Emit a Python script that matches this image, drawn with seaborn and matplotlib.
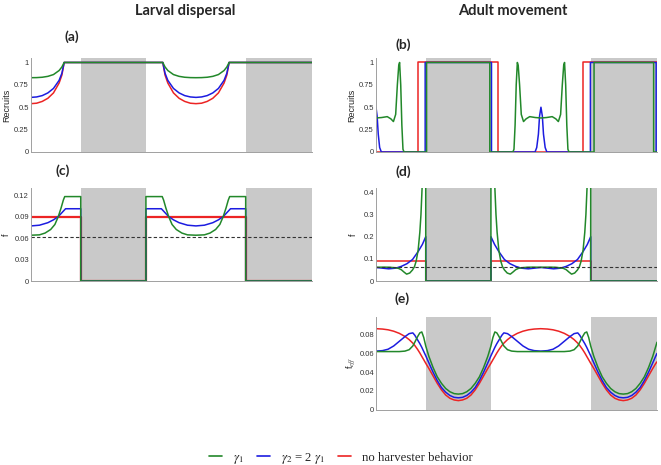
import matplotlib
matplotlib.use("Agg")
import matplotlib.pyplot as plt
from matplotlib.lines import Line2D
import seaborn as sns

# coastline runs 0..100, grey = reserves
reserves = [(17.7, 40.9), (76.4, 100.0)]
msy_effort = 0.062

# (a) larval dispersal - recruits
a_x = [0, 2, 4, 6, 8, 10, 11, 11.8, 46.9, 47.7, 48.7, 50.7, 52.7, 54.7, 56.7, 58.7,
       60.7, 62.7, 64.7, 66.7, 68.7, 69.7, 70.5, 100]
a_green = [.83, .831, .835, .845, .865, .91, .95, 1, 1, .95, .91, .865, .845, .835, .831, .83,
           .831, .835, .845, .865, .91, .95, 1, 1]
a_blue = [.61, .615, .63, .66, .71, .80, .88, 1, 1, .88, .80, .71, .66, .63, .615, .61,
          .615, .63, .66, .71, .80, .88, 1, 1]
a_red = [.54, .545, .565, .60, .66, .77, .86, 1, 1, .86, .77, .66, .60, .565, .545, .54,
         .545, .565, .60, .66, .77, .86, 1, 1]

# (b) adult movement - recruits
b_red_x = [0, 14.8, 14.8, 43.5, 43.5, 73.5, 73.5, 100]
b_red = [0, 0, 1, 1, 0, 0, 1, 1]
b_blue_x = [0, 0.4, 0.8, 1.3, 1.9, 17.5, 17.5, 41.1, 41.1, 56.6, 57.2, 57.8, 58.2, 58.7,
            59.2, 59.6, 60.2, 60.8, 76.3, 76.3, 99.7, 99.7, 100]
b_blue = [.5, .4, .2, .05, 0, 0, 1, 1, 0, 0, .05, .2, .4, .5, .4, .2, .05, 0, 0, 1, 1, 0, 0]
b_green_x = [0, 2, 4, 5.3, 6.2, 7.0, 7.6, 8.1, 8.4, 8.8, 9.2, 9.6, 10.0, 18.0, 18.0, 40.5, 40.5,
             48.7, 49.1, 49.5, 49.9, 50.3, 50.6, 51.1, 51.7, 52.5, 53.4, 54.7, 56.7, 58.7,
             60.7, 62.7, 64.0, 64.9, 65.7, 66.3, 66.8, 67.1, 67.5, 67.9, 68.3, 68.7,
             77.6, 77.6, 98.8, 98.8, 100]
b_green = [.38, .385, .395, .37, .34, .42, .75, .97, 1, .75, .3, .03, 0, 0, 1, 1, 0,
           0, .03, .3, .75, 1, .97, .75, .42, .34, .37, .395, .385, .38,
           .385, .395, .37, .34, .42, .75, .97, 1, .75, .3, .03, 0,
           0, 1, 1, 0, 0]

# (c) larval dispersal - effort f
c_red_x = [0, 17.7, 17.7, 40.9, 40.9, 76.4, 76.4, 100]
c_red = [.09, .09, 0, 0, .09, .09, 0, 0]
c_blue_x = [0, 3, 6, 8, 9.7, 11, 12.3, 17.7, 17.7, 40.9, 40.9, 46.4, 47.7, 49.0, 50.7, 52.7,
            55.7, 58.7, 61.7, 64.7, 66.7, 68.4, 69.7, 71.0, 76.4, 76.4, 100]
c_blue = [.077, .078, .0815, .0855, .09, .0955, .101, .101, 0, 0, .101, .101, .0955, .09, .0855,
          .0815, .078, .077, .078, .0815, .0855, .09, .0955, .101, .101, 0, 0]
c_green_x = [0, 3, 5, 7, 8.5, 9.7, 10.7, 11.5, 12, 17.7, 17.7, 40.9, 40.9, 46.7, 47.2, 48.0,
             49.0, 50.2, 51.7, 53.7, 55.7, 58.7, 61.7, 63.7, 65.7, 67.2, 68.4, 69.4, 70.2,
             70.7, 76.4, 76.4, 100]
c_green = [.064, .0645, .067, .072, .079, .09, .102, .113, .118, .118, 0, 0, .118, .118, .113,
           .102, .09, .079, .072, .067, .0645, .064, .0645, .067, .072, .079, .09, .102, .113,
           .118, .118, 0, 0]

# (d) adult movement - effort f
d_red_x = [0, 17.7, 17.7, 40.9, 40.9, 76.4, 76.4, 100]
d_red = [.09, .09, 0, 0, .09, .09, 0, 0]
d_blue_x = [0, 2, 4.5, 7, 9, 11, 13, 15, 16.5, 17.7, 17.7, 40.9, 40.9, 42.2, 43.7, 45.7, 47.7,
            49.7, 51.7, 54.2, 56.7, 58.7, 60.7, 63.2, 65.7, 67.7, 69.7, 71.7, 73.7, 75.2,
            76.4, 76.4, 100]
d_blue = [.061, .0585, .055, .058, .066, .078, .097, .133, .165, .2, 0, 0, .2, .165, .133,
          .097, .078, .066, .058, .055, .0585, .061, .0585, .055, .058, .066, .078, .097,
          .133, .165, .2, 0, 0]
d_green_x = [0, 3, 5, 7, 8, 9, 10, 10.9, 12, 13, 13.7, 14.3, 15, 15.6, 16, 16.4, 17, 17.7,
             17.7, 40.9, 40.9, 41.7, 42.3, 42.7, 43.1, 43.7, 44.4, 45.0, 45.7, 46.7, 47.8,
             48.7, 49.7, 50.7, 51.7, 53.7, 55.7, 58.7, 61.7, 63.7, 65.7, 66.7, 67.7, 68.7,
             69.6, 70.7, 71.7, 72.4, 73.0, 73.7, 74.3, 74.7, 75.1, 75.7, 76.4, 76.4, 100]
d_green = [.062, .0625, .062, .0595, .057, .051, .04, .031, .036, .05, .065, .09, .14, .22,
           .3, .42, .75, 1.2, 0, 0, 1.2, .75, .42, .3, .22, .14, .09, .065, .05, .036, .031,
           .04, .051, .057, .0595, .062, .0625, .062, .0625, .062, .0595, .057, .051, .04,
           .031, .036, .05, .065, .09, .14, .22, .3, .42, .75, 1.2, 0, 0]

# (e) adult movement - effective effort f_eff
e_x = [0, 2.3, 4.3, 6.3, 8.3, 10.3, 11.8, 13.1, 13.8, 14.8, 15.6, 16.3, 17.0, 17.7, 18.8,
       20.3, 21.8, 23.3, 24.8, 26.3, 27.8, 29.3,
       30.8, 32.3, 33.8, 35.3, 36.8, 38.3, 39.8, 40.9, 41.6, 42.3, 43.0, 43.8, 44.8, 45.5,
       46.8, 48.3, 50.3, 52.3, 54.3, 56.3, 58.6,
       61.0, 63.0, 65.0, 67.0, 69.0, 70.5, 71.8, 72.5, 73.5, 74.3, 75.0, 75.7, 76.4, 77.5,
       79.0, 80.5, 82.0, 83.5, 85.0, 86.5, 88.0,
       89.5, 91.0, 92.5, 94.0, 95.5, 97.0, 98.5, 99.6, 100]
e_red = [.0865, .0861, .0853, .0838, .0815, .0782, .0748, .071, .0685, .0643, .0605, .0568,
         .0532, .0495, .044, .036, .028, .021, .0155, .012, .0102, .0095,
         .0102, .012, .0155, .021, .028, .036, .044, .0495, .0532, .0568, .0605, .0643,
         .0685, .071, .0748, .0782, .0815, .0838, .0853, .0861, .0865,
         .0861, .0853, .0838, .0815, .0782, .0748, .071, .0685, .0643, .0605, .0568, .0532,
         .0495, .044, .036, .028, .021, .0155, .012, .0102, .0095,
         .0102, .012, .0155, .021, .028, .036, .044, .0495, .051]
e_blue = [.0625, .063, .0645, .068, .073, .078, .0812, .082, .0795, .0745, .0705, .0665,
          .062, .0575, .05, .04, .031, .0235, .0185, .015, .013, .0125,
          .013, .015, .0185, .0235, .031, .04, .05, .0575, .062, .0665, .0705, .0745,
          .0795, .082, .0812, .078, .073, .068, .0645, .063, .0625,
          .063, .0645, .068, .073, .078, .0812, .082, .0795, .0745, .0705, .0665, .062,
          .0575, .05, .04, .031, .0235, .0185, .015, .013, .0125,
          .013, .015, .0185, .0235, .031, .04, .05, .0575, .060]
e_green = [.062, .062, .062, .062, .062, .0625, .064, .068, .072, .078, .082, .083,
           .077, .068, .057, .045, .035, .028, .0225, .019, .017, .0165,
           .017, .019, .0225, .028, .035, .045, .057, .068, .077, .083, .082, .078,
           .072, .068, .064, .0625, .062, .062, .062, .062, .062,
           .062, .062, .062, .062, .0625, .064, .068, .072, .078, .082, .083, .077,
           .068, .057, .045, .035, .028, .0225, .019, .017, .0165,
           .017, .019, .0225, .028, .035, .045, .057, .068, .072]

GREEN = '#22882a'
BLUE = '#1c1ce0'
RED = '#ec2424'
GREY = '#c9c9c9'

sns.set_style("white")
plt.rcParams['font.family'] = ['Liberation Sans', 'DejaVu Sans']
plt.rcParams['mathtext.fontset'] = 'stix'

fig = plt.figure(figsize=(6.61, 4.65), dpi=100)
W, H = 661.0, 465.0


def make_ax(left, top, right, bottom):
    return fig.add_axes([left / W, 1 - bottom / H, (right - left) / W, (bottom - top) / H])


def line(ax, x, y, color, lw=1.1):
    sns.lineplot(x=x, y=y, ax=ax, color=color, lw=lw, estimator=None, sort=False)


def setup(ax, ylim, ticks, labels, ylabel, lab_x):
    for a, b in reserves:
        ax.axvspan(a, b, color=GREY, lw=0, zorder=0)
    ax.set_xlim(0, 100)
    ax.set_ylim(*ylim)
    ax.set_xticks([])
    ax.set_yticks(ticks)
    ax.set_yticklabels(labels)
    ax.tick_params(axis='y', direction='in', length=2, width=0.6, color='#777777',
                   labelsize=5.5, pad=1.5, labelcolor='#333333')
    sns.despine(ax=ax)
    for s in ('left', 'bottom'):
        ax.spines[s].set_color('#a0a0a0')
        ax.spines[s].set_linewidth(0.7)
    ax.set_ylabel(ylabel, fontsize=6.5, color='#222222', va='center')
    ax.yaxis.set_label_coords(lab_x, 0.5)


rec_ticks = [0, 0.25, 0.5, 0.75, 1]
rec_labels = ['0', '0.25', '0.5', '0.75', '1']

# (a)
ax = make_ax(31, 58, 312, 152)
setup(ax, (0, 1.05), rec_ticks, rec_labels, 'Recruits', -0.088)
line(ax, a_x, a_red, RED)
line(ax, a_x, a_blue, BLUE)
line(ax, a_x, a_green, GREEN)

# (b)
ax = make_ax(376, 58, 657, 152)
setup(ax, (0, 1.05), rec_ticks, rec_labels, 'Recruits', -0.086)
line(ax, b_red_x, b_red, RED)
line(ax, b_blue_x, b_blue, BLUE)
line(ax, b_green_x, b_green, GREEN)

# (c)
ax = make_ax(31, 188, 312, 281)
setup(ax, (0, 0.13), [0, .03, .06, .09, .12], ['0', '0.03', '0.06', '0.09', '0.12'], 'f', -0.086)
line(ax, c_red_x, c_red, RED, lw=1.6)
line(ax, c_blue_x, c_blue, BLUE)
line(ax, c_green_x, c_green, GREEN)
ax.axhline(msy_effort, color='#333333', ls=(0, (3, 2)), lw=0.8)
ax.set_xlabel('Coastline', fontsize=6.5, labelpad=3)

# (d)
ax = make_ax(376, 188, 657, 281)
setup(ax, (0, 0.42), [0, .1, .2, .3, .4], ['0', '0.1', '0.2', '0.3', '0.4'], 'f', -0.082)
line(ax, d_red_x, d_red, RED)
line(ax, d_blue_x, d_blue, BLUE)
line(ax, d_green_x, d_green, GREEN)
ax.axhline(msy_effort, color='#333333', ls=(0, (3, 2)), lw=0.8)

# (e)
ax = make_ax(376, 317, 657, 409.5)
setup(ax, (0, 0.099), [0, .02, .04, .06, .08], ['0', '0.02', '0.04', '0.06', '0.08'],
      r'f$_{eff}$', -0.09)
line(ax, e_x, e_red, RED)
line(ax, e_x, e_blue, BLUE)
line(ax, e_x, e_green, GREEN)
ax.set_xlabel('Coastline', fontsize=6.5, labelpad=3)

# column titles and panel letters
title_kw = dict(fontsize=10.5, fontweight='bold', family=['Lato', 'DejaVu Sans'],
                ha='center', va='center')
fig.text(185 / W, 1 - 11 / H, 'Larval dispersal', **title_kw)
fig.text(513 / W, 1 - 11 / H, 'Adult movement', **title_kw)
for txt, px, py in [('(a)', 72, 37), ('(b)', 403, 45), ('(c)', 63, 171),
                    ('(d)', 403, 172), ('(e)', 402, 299)]:
    fig.text(px / W, 1 - py / H, txt, **{**title_kw, 'fontsize': 10})

handles = [Line2D([], [], color=GREEN, lw=1.2),
           Line2D([], [], color=BLUE, lw=1.2),
           Line2D([], [], color=RED, lw=1.2)]
labels = [r'$\gamma_1$', r'$\gamma_2$ = 2 $\gamma_1$', 'no harvester behavior']
fig.legend(handles, labels, loc='center', bbox_to_anchor=(341 / W, 1 - 458 / H), ncol=3,
           frameon=False, handlelength=1.0, handletextpad=0.9, columnspacing=1.0,
           prop={'family': 'Liberation Serif', 'size': 9.2})

fig.savefig('out.png', dpi=100)
